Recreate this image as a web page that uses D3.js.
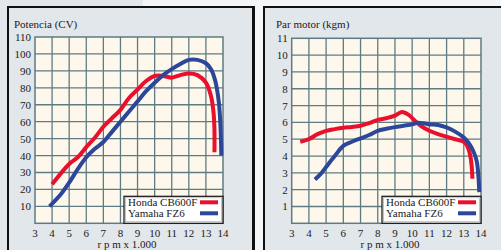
<!DOCTYPE html>
<html><head><meta charset="utf-8">
<script src="https://cdn.jsdelivr.net/npm/d3@7"></script>
<style>
html,body{margin:0;padding:0;background:#e2e7eb;}
svg{display:block;}
text{font-family:"Liberation Serif","Times New Roman",serif;fill:#1a1a1a;}
</style></head>
<body><svg id="c" width="501" height="250"></svg>
<script>
const xTicks = [3,4,5,6,7,8,9,10,11,12,13,14];
const powerTicks = [10,20,30,40,50,60,70,80,90,100,110];
const torqueTicks = [1,2,3,4,5,6,7,8,9,10,11];
const seriesNames = ["Honda CB600F","Yamaha FZ6"];
const seriesColors = ["#e8102c","#2c4799"];

const hondaPower = [[4,23],[5,35],[5.5,39],[6,45],[6.5,50.5],[7,57],[7.5,62],[8,67],[8.5,74],[9,79],[9.5,84],[10,87],[10.5,87],[11,86],[11.5,87.5],[12,88.5],[12.5,87.5],[13,83],[13.3,75],[13.45,65],[13.5,55],[13.5,42]];
const yamahaPower = [[3.85,10],[4.5,17],[5,24],[5.5,32],[6,39],[6.5,44],[7,48],[7.5,54],[8,60],[8.5,66],[9,72],[9.5,78],[10,83],[10.5,87.5],[11,91],[11.5,94],[12,96.5],[12.5,96.5],[13,94.5],[13.3,91],[13.55,84],[13.75,72],[13.85,58],[13.9,40]];
const hondaTorque = [[3.5,4.85],[4,5.0],[4.5,5.3],[5,5.5],[5.5,5.6],[6,5.68],[6.5,5.73],[7,5.8],[7.5,5.95],[8,6.15],[8.5,6.25],[9,6.4],[9.4,6.62],[9.8,6.45],[10.2,6.05],[10.5,5.8],[11,5.5],[11.5,5.3],[12,5.15],[12.5,5.0],[13,4.85],[13.2,4.6],[13.35,4.15],[13.45,3.5],[13.5,2.65]];
const yamahaTorque = [[4.35,2.6],[4.7,2.95],[5,3.35],[5.5,4.0],[6,4.6],[6.5,4.85],[7,5.05],[7.5,5.25],[8,5.5],[8.5,5.62],[9,5.72],[9.5,5.8],[10,5.88],[10.3,5.98],[10.7,5.95],[11,5.88],[11.5,5.85],[12,5.7],[12.5,5.45],[13,5.1],[13.3,4.75],[13.55,4.3],[13.75,3.7],[13.85,2.8],[13.9,1.85]];

const svg = d3.select("#c");
// background decoration
svg.append("rect").attr("x",0).attr("y",0).attr("width",501).attr("height",250).attr("fill","#e2e7eb");
svg.append("rect").attr("x",143).attr("y",0).attr("width",358).attr("height",6).attr("fill","#f3f5f7");
svg.append("rect").attr("x",254).attr("y",6).attr("width",9).attr("height",244).attr("fill","#f3f5f7");
// panel borders
svg.append("rect").attr("x",7).attr("y",6).attr("width",2).attr("height",244).attr("fill","#111");
svg.append("rect").attr("x",7).attr("y",6).attr("width",247).attr("height",2).attr("fill","#111");
svg.append("rect").attr("x",252).attr("y",6).attr("width",3).attr("height",244).attr("fill","#111");
svg.append("rect").attr("x",263).attr("y",6).attr("width",2).attr("height",244).attr("fill","#111");
svg.append("rect").attr("x",263).attr("y",6).attr("width",238).attr("height",2).attr("fill","#111");

function panel(opts){
  const {x0,x1,y0,y1,ymax,yTicks,title,titleX,series,labelX} = opts;
  const x = d3.scaleLinear().domain([3,14]).range([x0,x1]);
  const y = d3.scaleLinear().domain([0,ymax]).range([y1,y0]);
  const g = svg.append("g");
  g.append("rect").attr("x",x0).attr("y",y0).attr("width",x1-x0).attr("height",y1-y0).attr("fill","#fdf8eb");
  const grid = "#5e7b84";
  g.selectAll(".vg").data(xTicks.slice(1,-1)).join("line")
    .attr("x1",d=>x(d)).attr("x2",d=>x(d)).attr("y1",y0).attr("y2",y1)
    .attr("stroke",grid).attr("stroke-width",1.3);
  g.selectAll(".hg").data(yTicks.slice(0,-1)).join("line")
    .attr("y1",d=>y(d)).attr("y2",d=>y(d)).attr("x1",x0).attr("x2",x1)
    .attr("stroke",grid).attr("stroke-width",1.3);
  g.append("rect").attr("x",x0).attr("y",y0).attr("width",x1-x0).attr("height",y1-y0)
    .attr("fill","none").attr("stroke",grid).attr("stroke-width",1.5);
  // y labels
  g.selectAll(".yl").data(yTicks).join("text")
    .attr("x",x0-4).attr("y",d=>y(d)+4).attr("text-anchor","end")
    .attr("font-size",11).text(d=>d);
  // x labels
  g.selectAll(".xl").data(xTicks).join("text")
    .attr("x",d=>x(d)).attr("y",y1+14).attr("text-anchor","middle")
    .attr("font-size",11).text(d=>d);
  g.append("text").attr("x",labelX).attr("y",248).attr("text-anchor","middle")
    .attr("font-size",11).text("r p m x 1.000");
  g.append("text").attr("x",titleX).attr("y",28).attr("font-size",11).text(title);
  // lines
  const line = d3.line().x(d=>x(d[0])).y(d=>y(d[1])).curve(d3.curveCatmullRom.alpha(0.5));
  series.forEach((s,i)=>{
    g.append("path").attr("d",line(s)).attr("fill","none")
      .attr("stroke",seriesColors[i]).attr("stroke-width",4)
      .attr("stroke-linejoin","round").attr("stroke-linecap","butt");
  });
  // legend
  const lx0 = x1-99, ly0 = y1-27;
  g.append("rect").attr("x",lx0).attr("y",ly0).attr("width",x1-lx0).attr("height",y1-ly0)
    .attr("fill","#ffffff").attr("stroke","#111").attr("stroke-width",1.2);
  g.append("rect").attr("x",lx0+1.5).attr("y",ly0+1.5).attr("width",x1-lx0-3).attr("height",y1-ly0-3)
    .attr("fill","none").attr("stroke","#999").attr("stroke-width",0.6);
  seriesNames.forEach((n,i)=>{
    g.append("text").attr("x",lx0+4).attr("y",ly0+10+i*11).attr("font-size",11).text(n);
    g.append("line").attr("x1",x1-23).attr("x2",x1-5).attr("y1",ly0+6+i*11).attr("y2",ly0+6+i*11)
      .attr("stroke",seriesColors[i]).attr("stroke-width",4);
  });
}

panel({x0:35,x1:223,y0:37,y1:223.3,ymax:110,yTicks:powerTicks,title:"Potencia (CV)",titleX:14,
  series:[hondaPower,yamahaPower],labelX:127});
panel({x0:291.7,x1:481,y0:38.3,y1:223.3,ymax:11,yTicks:torqueTicks,title:"Par motor (kgm)",titleX:276,
  series:[hondaTorque,yamahaTorque],labelX:390});
</script></body></html>
